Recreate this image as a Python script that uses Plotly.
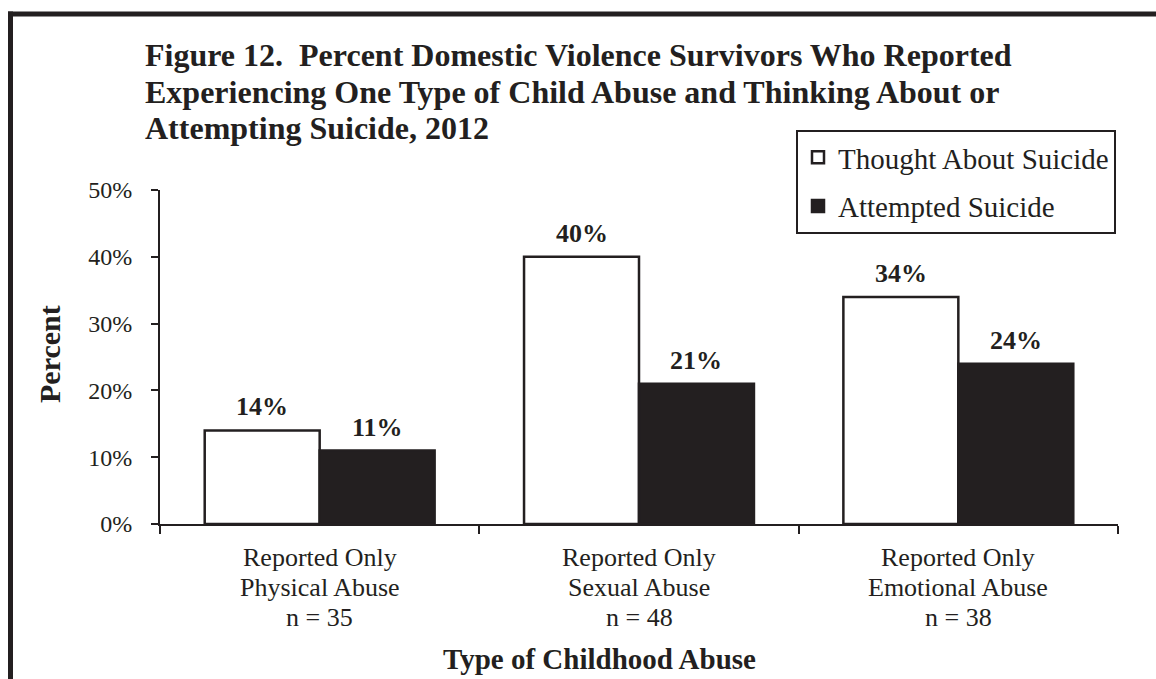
import plotly.graph_objects as go

# ---- data ----
categories = ["Physical", "Sexual", "Emotional"]
cat_line1 = ["Reported Only", "Reported Only", "Reported Only"]
cat_line2 = ["Physical Abuse", "Sexual Abuse", "Emotional Abuse"]
cat_line3 = ["n = 35", "n = 48", "n = 38"]
series_names = ["Thought About Suicide", "Attempted Suicide"]
thought = [14, 40, 34]
attempted = [11, 21, 24]
title_lines = [
    "Figure 12.  Percent Domestic Violence Survivors Who Reported",
    "Experiencing One Type of Child Abuse and Thinking About or",
    "Attempting Suicide, 2012",
]

INK = "#231f20"
FONT = "Liberation Serif"
W, H = 1156, 679
ML, MR, MT, MB = 160, 38, 190, 155
PW, PH = W - ML - MR, H - MT - MB
BARGAP = 0.28


def px(x):
    return (x - ML) / PW


def py(y):
    return (H - MB - y) / PH


fig = go.Figure()
fig.add_trace(go.Bar(
    x=categories, y=thought, name=series_names[0],
    marker=dict(color="white", line=dict(color=INK, width=2.5)),
    legendgroup="a",
))
fig.add_trace(go.Bar(
    x=categories, y=attempted, name=series_names[1],
    marker=dict(color=INK, line=dict(color=INK, width=2.5)),
    legendgroup="b",
))

annotations = []
# value labels
half = (1 - BARGAP) / 4
for i, (a, b) in enumerate(zip(thought, attempted)):
    for xv, v in ((i - half, a), (i + half, b)):
        annotations.append(dict(
            x=xv, y=v, xref="x", yref="y", text=f"<b>{v}%</b>",
            showarrow=False, yanchor="bottom", yshift=7,
            font=dict(family=FONT, size=26, color=INK),
        ))

# category labels (three lines each)
for i in range(len(categories)):
    for line, ymid in ((cat_line1[i], 557), (cat_line2[i], 587), (cat_line3[i], 617)):
        annotations.append(dict(
            x=i, y=py(ymid), xref="x", yref="paper", text=line,
            showarrow=False, yanchor="middle", xanchor="center",
            font=dict(family=FONT, size=26, color=INK),
        ))

# title lines
for line, ymid in zip(title_lines, (55, 92, 128)):
    annotations.append(dict(
        x=px(143), y=py(ymid), xref="paper", yref="paper",
        text=f"<b>{line}</b>", showarrow=False,
        xanchor="left", yanchor="middle",
        font=dict(family=FONT, size=32, color=INK),
    ))

# axis titles
annotations.append(dict(
    x=px(599), y=py(659), xref="paper", yref="paper",
    text="<b>Type of Childhood Abuse</b>", showarrow=False,
    xanchor="center", yanchor="middle",
    font=dict(family=FONT, size=29, color=INK),
))
annotations.append(dict(
    x=px(49), y=py(354), xref="paper", yref="paper",
    text="<b>Percent</b>", showarrow=False, textangle=-90,
    xanchor="center", yanchor="middle",
    font=dict(family=FONT, size=30, color=INK),
))

shapes = [
    dict(type="line", xref="paper", yref="paper",
         x0=px(8), x1=px(1170), y0=py(14), y1=py(14),
         line=dict(color=INK, width=5)),
    dict(type="line", xref="paper", yref="paper",
         x0=px(10.5), x1=px(10.5), y0=py(11.5), y1=py(700),
         line=dict(color=INK, width=5)),
]

fig.update_layout(
    width=W, height=H,
    margin=dict(l=ML, r=MR, t=MT, b=MB),
    paper_bgcolor="white", plot_bgcolor="white",
    barmode="group", bargap=BARGAP, bargroupgap=0,
    font=dict(family=FONT, size=24, color=INK),
    showlegend=True,
    legend=dict(
        x=px(796), y=py(130), xanchor="left", yanchor="top",
        bgcolor="white", bordercolor=INK, borderwidth=2,
        font=dict(family=FONT, size=29, color=INK),
        tracegroupgap=8,
    ),
    annotations=annotations,
    shapes=shapes,
)
fig.update_xaxes(
    type="category", showline=True, linecolor=INK, linewidth=2,
    ticks="outside", tickson="boundaries", ticklen=8, tickwidth=2,
    tickcolor=INK, showticklabels=False, showgrid=False,
)
fig.update_yaxes(
    range=[0, 50], dtick=10, ticksuffix="%", showline=True,
    linecolor=INK, linewidth=2, ticks="outside", ticklen=7, tickwidth=2,
    tickcolor=INK, showgrid=False, zeroline=False,
    tickfont=dict(family=FONT, size=24, color=INK),
    ticklabelstandoff=14,
)

fig.write_html(
    "out.html",
    config={"displayModeBar": False},
    post_script="document.body.style.margin='0';document.body.style.overflow='hidden';",
)
